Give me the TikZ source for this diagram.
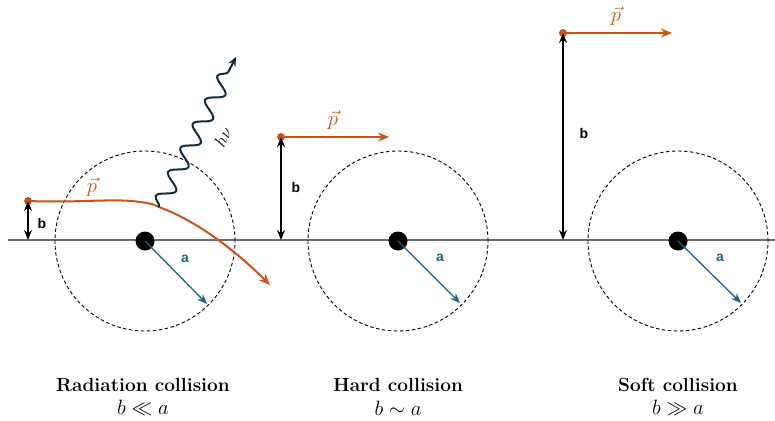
\documentclass[tikz,border=0pt]{standalone}
\usepackage{fontspec}
\newfontfamily\lblfont{Liberation Sans}
\usetikzlibrary{arrows.meta,decorations.pathmorphing,calc}
\definecolor{orng}{HTML}{C4561C}
\definecolor{blu}{HTML}{1F6487}
\definecolor{navy}{HTML}{102C3E}
\definecolor{axisgray}{HTML}{6E6E6E}
\tikzset{
  axisline/.style={draw=axisgray, line width=1.5pt},
  region/.style={draw=black, line width=0.9pt, dash pattern=on 3.5pt off 2.5pt},
  nucleus/.style={circle, fill=black, minimum size=19pt, inner sep=0pt},
  radius arrow/.style={draw=blu, line width=1.3pt, -{Stealth[length=10pt,width=8pt]}},
  alabel/.style={text=blu, font=\lblfont\bfseries\fontsize{14}{16}\selectfont},
  blabel/.style={text=black, font=\lblfont\bfseries\fontsize{14}{16}\selectfont},
  impact/.style={draw=black, line width=1.4pt, {Stealth[length=10pt,width=8pt]}-{Stealth[length=10pt,width=8pt]}},
  momentum/.style={draw=orng, line width=2pt, -{Stealth[length=11pt,width=9pt]}},
  pdot/.style={circle, fill=orng, minimum size=8pt, inner sep=0pt},
  plabel/.style={text=orng, font=\fontsize{20}{22}\selectfont},
  captitle/.style={font=\bfseries\fontsize{19}{21}\selectfont},
  capsub/.style={font=\fontsize{20}{22}\selectfont},
  photon/.style={draw=navy, line width=2pt, -{Stealth[length=9pt,width=8pt]},
    decorate, decoration={snake, segment length=27pt, amplitude=8pt, post length=7pt}},
}
\begin{document}
\begin{tikzpicture}[x=1pt,y=-1pt]
\useasboundingbox (0,0) rectangle (775,420);
% axis
\coordinate (axL) at (8,240);
\coordinate (axR) at (775,240);
\draw[axisline] (axL) -- (axR);

% ---------- Radiation collision ----------
\node[region, circle, minimum size=180pt, inner sep=0pt] (c1) at (145,241) {};
\node[nucleus] (n1) at (145,241) {};
\coordinate (a1) at (207,304);
\draw[radius arrow] (n1.center) -- (a1);
\node[alabel] (la1) at (185,259) {a};
\node[pdot] (d1) at (28,201) {};
\coordinate (b1) at (28,240);
\draw[impact] (b1) -- (d1.center);
\node[blabel] (lb1) at (42,223) {b};
\coordinate (e1) at (159,207);
\coordinate (t1) at (270,285);
\draw[momentum] (d1.center) .. controls (80,203) and (115,198) .. (140,202)
   .. controls (150,203) and (155,205) .. (e1)
   .. controls (200,222) and (240,255) .. (t1);
\node[plabel] (lp1) at (92,187) {$\vec{p}$};
\coordinate (g1) at (236,57);
\draw[photon] (e1) -- (g1);
\node[rotate=63, font=\fontsize{16}{18}\selectfont] (hn) at (223,137) {$h\nu$};
\node[captitle] (cap1) at (143,385) {Radiation collision};
\node[capsub] (sub1) at (143,408) {$b \ll a$};

% ---------- Hard collision ----------
\node[region, circle, minimum size=180pt, inner sep=0pt] (c2) at (398,241) {};
\node[nucleus] (n2) at (398,241) {};
\coordinate (a2) at (460,303);
\draw[radius arrow] (n2.center) -- (a2);
\node[alabel] (la2) at (440,258) {a};
\node[pdot] (d2) at (281,137) {};
\coordinate (b2) at (281,240);
\draw[impact] (b2) -- (d2.center);
\node[blabel] (lb2) at (296,187) {b};
\coordinate (t2) at (389,137);
\draw[momentum] (d2.center) -- (t2);
\node[plabel] (lp2) at (333,120) {$\vec{p}$};
\node[captitle] (cap2) at (398,385) {Hard collision};
\node[capsub] (sub2) at (398,408) {$b \sim a$};

% ---------- Soft collision ----------
\node[region, circle, minimum size=180pt, inner sep=0pt] (c3) at (678,241) {};
\node[nucleus] (n3) at (678,241) {};
\coordinate (a3) at (741,303);
\draw[radius arrow] (n3.center) -- (a3);
\node[alabel] (la3) at (720,258) {a};
\node[pdot] (d3) at (563,33) {};
\coordinate (b3) at (563,240);
\draw[impact] (b3) -- (d3.center);
\node[blabel] (lb3) at (584,133) {b};
\coordinate (t3) at (672,33);
\draw[momentum] (d3.center) -- (t3);
\node[plabel] (lp3) at (616,16) {$\vec{p}$};
\node[captitle] (cap3) at (678,385) {Soft collision};
\node[capsub] (sub3) at (678,408) {$b \gg a$};
\end{tikzpicture}
\end{document}
